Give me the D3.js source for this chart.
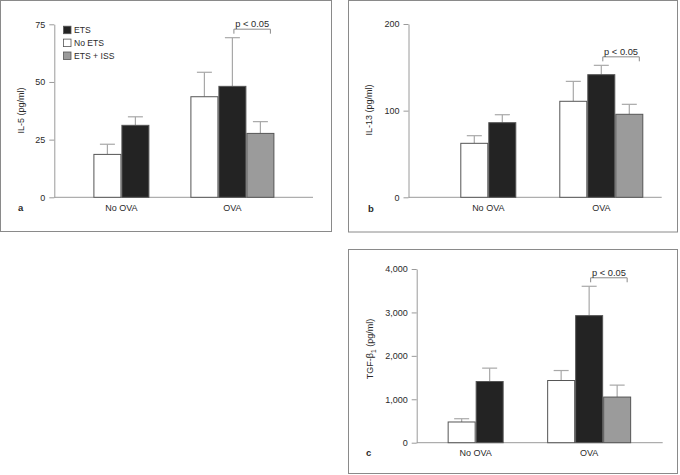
<!DOCTYPE html>
<html><head><meta charset="utf-8">
<script src="https://cdn.jsdelivr.net/npm/d3@7"></script>
<style>
html,body{margin:0;padding:0;background:#fff;}
svg text{font-family:"Liberation Sans",Arial,sans-serif;fill:#2a2a2a;}
</style></head>
<body>
<svg id="chart" width="680" height="475"></svg>
<script>
// ---- data ----
const groups = ["No OVA", "OVA"];
const seriesNames = ["No ETS", "ETS", "ETS + ISS"];
const legendOrder = ["ETS", "No ETS", "ETS + ISS"];

// IL-5 (pg/ml)
const il5Mean = { "No ETS": [18.6, 43.6], "ETS": [31.2, 48.1], "ETS + ISS": [null, 27.7] };
const il5Err  = { "No ETS": [4.4, 10.6],  "ETS": [3.7, 21.1],  "ETS + ISS": [null, 5.1] };
const il5Ticks = [0, 25, 50, 75];

// IL-13 (pg/ml)
const il13Mean = { "No ETS": [62.3, 110.8], "ETS": [86.1, 141.5], "ETS + ISS": [null, 95.8] };
const il13Err  = { "No ETS": [8.8, 23.0],   "ETS": [9.2, 10.8],   "ETS + ISS": [null, 11.5] };
const il13Ticks = [0, 100, 200];

// TGF-beta1 (pg/ml)
const tgfMean = { "No ETS": [477, 1432], "ETS": [1409, 2926], "ETS + ISS": [null, 1051] };
const tgfErr  = { "No ETS": [75, 230],   "ETS": [308, 676],   "ETS + ISS": [null, 275] };
const tgfTicks = [0, 1000, 2000, 3000, 4000];

const sigLabel = "p < 0.05";

// ---- styles ----
const fills = { "No ETS": "#ffffff", "ETS": "#232323", "ETS + ISS": "#9b9b9b" };
const frameColor = "#8a8a8a", axisColor = "#9a9a9a", errColor = "#a8a8a8", barStroke = "#555";

// ---- layout per panel ----
const panels = [
  { letter: "a", mean: il5Mean, err: il5Err, ticks: il5Ticks, max: 75, label: "IL-5 (pg/ml)",
    frame: [0.5, 0.5, 331, 231], ax: 54.3, ay: 197.3, atop: 24.3, axEnd: 313, band: [65.9, 287.9],
    labX: 24, labY: 110.5, letX: 18, letY: 210.5, legend: true, fmt: d3.format("d") },
  { letter: "b", mean: il13Mean, err: il13Err, ticks: il13Ticks, max: 200, label: "IL-13 (pg/ml)",
    frame: [348.5, 0.5, 329, 231.5], ax: 408.5, ay: 197.3, atop: 24, axEnd: 661.7, band: [431.8, 657.8],
    labX: 371.5, labY: 110, letX: 368, letY: 212, legend: false, fmt: d3.format("d") },
  { letter: "c", mean: tgfMean, err: tgfErr, ticks: tgfTicks, max: 4000, label: "TGF-β",
    frame: [348.5, 249.5, 329, 224], ax: 416.7, ay: 442.7, atop: 269, axEnd: 662.7, band: [418.9, 645.9],
    labX: 373, labY: 349, letX: 366, letY: 456, legend: false, fmt: d3.format(",") , sub: true }
];

const svg = d3.select("#chart");
const barW = 28;

panels.forEach(p => {
  const g = svg.append("g");
  g.append("rect").attr("x", p.frame[0]).attr("y", p.frame[1]).attr("width", p.frame[2]).attr("height", p.frame[3])
    .attr("fill", "none").attr("stroke", frameColor).attr("stroke-width", 1);

  const y = d3.scaleLinear().domain([0, p.max]).range([p.ay, p.atop]);
  const x = d3.scaleBand().domain(groups).range(p.band).padding(0);

  // y axis
  const yAxis = d3.axisLeft(y).tickValues(p.ticks).tickFormat(p.fmt).tickSize(5).tickSizeOuter(0).tickPadding(4);
  const ya = g.append("g").attr("transform", `translate(${p.ax},0)`).call(yAxis);
  ya.select(".domain").attr("stroke", axisColor);
  ya.selectAll(".tick line").attr("stroke", axisColor);
  ya.selectAll(".tick text").attr("font-size", 9).attr("fill", "#2a2a2a")
    .style("font-family", '"Liberation Sans",Arial,sans-serif');

  // x axis baseline
  g.append("line").attr("x1", p.ax).attr("x2", p.axEnd).attr("y1", p.ay).attr("y2", p.ay)
    .attr("stroke", axisColor);

  // category labels
  groups.forEach(cat => {
    g.append("text").attr("x", x(cat) + x.bandwidth() / 2).attr("y", p.ay + 13.5)
      .attr("text-anchor", "middle").attr("font-size", 9).text(cat);
  });

  // bars
  const barPos = {};
  groups.forEach((cat, gi) => {
    const present = seriesNames.filter(s => p.mean[s][gi] != null);
    const center = x(cat) + x.bandwidth() / 2;
    const start = center - present.length * barW / 2;
    present.forEach((s, si) => {
      const v = p.mean[s][gi], e = p.err[s][gi];
      const bx = start + si * barW;
      const cx = bx + barW / 2;
      barPos[cat + "|" + s] = { cx, errTop: y(v + e) };
      // error bar (drawn first, behind bar)
      g.append("line").attr("x1", cx).attr("x2", cx).attr("y1", y(v)).attr("y2", y(v + e))
        .attr("stroke", errColor).attr("stroke-width", 1.2);
      g.append("line").attr("x1", cx - 7.5).attr("x2", cx + 7.5).attr("y1", y(v + e)).attr("y2", y(v + e))
        .attr("stroke", errColor).attr("stroke-width", 1.2);
      g.append("rect").attr("x", bx + 0.5).attr("y", y(v)).attr("width", barW - 1).attr("height", p.ay - y(v))
        .attr("fill", fills[s]).attr("stroke", barStroke).attr("stroke-width", 1);
    });
  });

  // significance bracket (OVA: ETS vs ETS + ISS)
  const b1 = barPos["OVA|ETS"], b2 = barPos["OVA|ETS + ISS"];
  const by = b1.errTop - 8.5, bx1 = b1.cx + 1.5, bx2 = b2.cx + 10;
  g.append("path").attr("d", `M${bx1},${by + 4.5}V${by}H${bx2}V${by + 4.5}`)
    .attr("fill", "none").attr("stroke", "#8a8a8a").attr("stroke-width", 1);
  g.append("text").attr("x", (bx1 + bx2) / 2).attr("y", by - 2.2).attr("text-anchor", "middle")
    .attr("font-size", 9.3).text(sigLabel);

  // y label
  const yl = g.append("text").attr("transform", `translate(${p.labX},${p.labY}) rotate(-90)`)
    .attr("text-anchor", "middle").attr("font-size", 9);
  if (p.sub) {
    yl.append("tspan").text(p.label);
    yl.append("tspan").attr("font-size", 6.5).attr("dy", 2.5).text("1");
    yl.append("tspan").attr("dy", -2.5).text(" (pg/ml)");
  } else {
    yl.text(p.label);
  }

  // panel letter
  g.append("text").attr("x", p.letX).attr("y", p.letY).attr("font-size", 9.5).attr("font-weight", "bold").text(p.letter);

  // legend
  if (p.legend) {
    const lg = g.append("g");
    legendOrder.forEach((s, i) => {
      const ly = 30 + i * 12.9;
      lg.append("rect").attr("x", 63.5).attr("y", ly - 3.8).attr("width", 7.5).attr("height", 7.5)
        .attr("fill", fills[s]).attr("stroke", barStroke).attr("stroke-width", 0.8);
      lg.append("text").attr("x", 74).attr("y", ly + 3.2).attr("font-size", 8.6).text(s);
    });
  }
});
</script>
</body></html>
